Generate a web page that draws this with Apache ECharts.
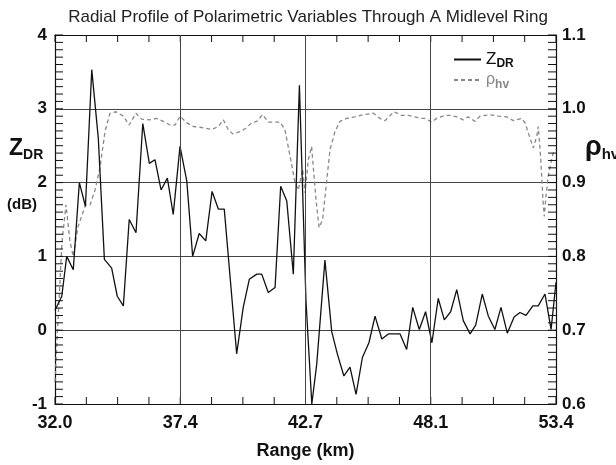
<!DOCTYPE html>
<html>
<head>
<meta charset="utf-8">
<title>Radial Profile</title>
<script src="https://cdn.jsdelivr.net/npm/echarts@6/dist/echarts.min.js"></script>
<style>
  html, body { margin: 0; padding: 0; background: #fff; }
  #chart { width: 616px; height: 465px; }
</style>
</head>
<body>
<div id="chart"></div>
<script>
// x axis ticks (km) and the labels printed under them
const rangeTicks = [32.0, 37.35, 42.7, 48.05, 53.4]
const rangeLabels = ['32.0', '37.4', '42.7', '48.1', '53.4']

// Z_DR (dB) along the radial
const zdrRange = [32.00, 32.29, 32.50, 32.78, 33.04, 33.30, 33.57, 33.85, 34.11, 34.42,
  34.66, 34.92, 35.17, 35.46, 35.75, 36.03, 36.27, 36.53, 36.80, 37.05,
  37.34, 37.63, 37.88, 38.16, 38.44, 38.71, 38.98, 39.23, 39.76, 40.04,
  40.30, 40.62, 40.83, 41.11, 41.40, 41.64, 41.90, 42.18, 42.44, 42.72,
  42.97, 43.18, 43.53, 43.82, 44.06, 44.34, 44.60, 44.86, 45.13, 45.41,
  45.67, 45.96, 46.24, 46.48, 46.74, 47.02, 47.28, 47.56, 47.83, 48.10,
  48.37, 48.63, 48.90, 49.16, 49.44, 49.73, 49.97, 50.25, 50.51, 50.79,
  51.05, 51.32, 51.61, 51.86, 52.12, 52.41, 52.64, 52.93, 53.19, 53.40]
const zdrValue = [0.27, 0.46, 1.00, 0.82, 2.00, 1.68, 3.53, 2.60, 0.96, 0.84,
  0.46, 0.33, 1.50, 1.32, 2.80, 2.26, 2.31, 1.90, 2.06, 1.57,
  2.49, 2.02, 1.00, 1.31, 1.21, 1.88, 1.64, 1.64, -0.32, 0.31,
  0.69, 0.76, 0.76, 0.51, 0.58, 1.95, 1.75, 0.76, 3.32, 0.40,
  -1.00, -0.46, 0.95, -0.02, -0.32, -0.62, -0.50, -0.87, -0.37, -0.17,
  0.19, -0.12, -0.05, -0.05, -0.05, -0.26, 0.31, 0.01, 0.25, -0.17,
  0.43, 0.14, 0.25, 0.55, 0.13, -0.05, 0.07, 0.49, 0.19, 0.01,
  0.31, -0.04, 0.18, 0.24, 0.20, 0.33, 0.33, 0.49, 0.01, 0.65]

// rho_hv along the radial
const rhoRange = [32.00, 32.14, 32.30, 32.47, 32.64, 32.78, 32.98, 33.31, 33.50, 33.71,
  33.92, 34.14, 34.35, 34.61, 34.92, 35.17, 35.46, 35.70, 36.06, 36.34,
  36.63, 36.91, 37.13, 37.34, 37.63, 37.91, 38.19, 38.69, 38.98, 39.19,
  39.40, 39.59, 39.90, 40.12, 40.40, 40.62, 40.87, 41.11, 41.61, 41.82,
  42.04, 42.25, 42.39, 42.58, 42.68, 42.82, 42.96, 43.03, 43.15, 43.28,
  43.43, 43.58, 43.75, 43.96, 44.17, 44.46, 44.81, 45.17, 45.60, 45.88,
  46.10, 46.48, 46.81, 47.09, 47.38, 47.59, 47.80, 48.09, 48.30, 48.66,
  48.87, 49.16, 49.44, 49.65, 49.94, 50.15, 50.58, 50.94, 51.29, 51.58,
  51.93, 52.08, 52.22, 52.43, 52.58, 52.64, 52.72, 52.79, 52.84, 52.90,
  52.97, 53.07, 53.21, 53.28, 53.40]
const rhoValue = [0.63, 0.72, 0.82, 0.87, 0.82, 0.80, 0.84, 0.87, 0.87, 0.89,
  0.92, 0.97, 0.994, 0.996, 0.990, 0.978, 0.994, 0.986, 0.985, 0.987,
  0.983, 0.978, 0.978, 0.990, 0.981, 0.976, 0.975, 0.972, 0.976, 0.985,
  0.972, 0.966, 0.969, 0.973, 0.981, 0.983, 0.992, 0.982, 0.982, 0.972,
  0.936, 0.900, 0.890, 0.918, 0.886, 0.931, 0.949, 0.922, 0.877, 0.839,
  0.850, 0.895, 0.945, 0.969, 0.983, 0.987, 0.989, 0.992, 0.994, 0.987,
  0.984, 0.996, 0.991, 0.991, 0.989, 0.987, 0.987, 0.982, 0.987, 0.991,
  0.991, 0.989, 0.985, 0.989, 0.983, 0.990, 0.992, 0.990, 0.989, 0.984,
  0.987, 0.981, 0.967, 0.947, 0.963, 0.976, 0.945, 0.909, 0.877, 0.854,
  0.881, 0.909, 0.931, 0.940, 0.945]

// minor tick positions: 4 per labelled range interval, 10 per unit on the left, 10 per 0.1 on the right
const minorRange = []
rangeTicks.forEach((t, i) => {
  if (i === rangeTicks.length - 1) { minorRange.push(t); return }
  const step = (rangeTicks[i + 1] - t) / 4
  for (let k = 0; k < 4; k++) minorRange.push(t + k * step)
})
const minorZdr = []
for (let k = 0; k <= 50; k++) minorZdr.push(-1 + k * 0.1)
const minorRho = []
for (let k = 0; k <= 50; k++) minorRho.push(0.6 + k * 0.01)

const FONT = 'Liberation Sans, Arial, sans-serif'
const ink = '#111'

function frameLine() {
  return { show: true, onZero: false, lineStyle: { color: ink, width: 1.2 } }
}

// tick marks drawn through the axes' own scales; dir = which way the tick points
function tickSeries(yIndex, data) {
  return {
    type: 'custom',
    xAxisIndex: 0,
    yAxisIndex: yIndex,
    silent: true,
    z: 4,
    data: data,
    renderItem: (params, api) => {
      const p = api.coord([api.value(0), api.value(1)])
      const dir = api.value(2)
      let x2 = p[0]
      let y2 = p[1]
      if (dir === 0) y2 -= 7 // bottom edge, pointing up
      if (dir === 1) y2 += 7 // top edge, pointing down
      if (dir === 2) x2 += 8 // left edge, pointing right
      if (dir === 3) x2 -= 8 // right edge, pointing left
      return {
        type: 'line',
        shape: { x1: p[0], y1: p[1], x2: x2, y2: y2 },
        style: { stroke: ink, lineWidth: 1 },
      }
    },
  }
}

const chart = echarts.init(document.getElementById('chart'))

const option = {
  animation: false,
  backgroundColor: '#fff',
  title: {
    text: 'Radial Profile of Polarimetric Variables Through A Midlevel Ring',
    left: 'center',
    top: 4,
    textStyle: { fontFamily: FONT, fontSize: 17, fontWeight: 'normal', color: '#222' },
  },
  grid: { left: 55, right: 60, top: 35, bottom: 60 },
  legend: {
    orient: 'vertical',
    left: 448,
    top: 46,
    itemWidth: 27,
    itemHeight: 10,
    itemGap: 2,
    itemStyle: { opacity: 0 },
    data: [{ name: 'ZDR' }, { name: 'rho' }],
    formatter: (name) => (name === 'ZDR' ? '{a|Z}{b|DR}' : '{c|ρ}{d|hv}'),
    textStyle: {
      fontFamily: FONT,
      rich: {
        a: { fontSize: 17, lineHeight: 18, color: ink },
        b: { fontSize: 12, fontWeight: 'bold', color: ink, padding: [9, 0, 0, 0] },
        c: { fontSize: 16, lineHeight: 18, color: '#888' },
        d: { fontSize: 12, fontWeight: 'bold', color: '#888', padding: [9, 0, 0, 0] },
      },
    },
  },
  xAxis: [
    {
      type: 'value',
      min: 32,
      max: 53.4,
      position: 'bottom',
      name: 'Range (km)',
      nameLocation: 'middle',
      nameGap: 38,
      nameTextStyle: { fontFamily: FONT, fontWeight: 'bold', color: ink, fontSize: 18 },
      axisLine: frameLine(),
      axisTick: { show: false },
      axisLabel: {
        fontFamily: FONT,
        fontWeight: 'bold',
        color: ink,
        fontSize: 18,
        margin: 10,
        customValues: rangeTicks,
        formatter: (v) => {
          const i = rangeTicks.findIndex((t) => Math.abs(t - v) < 0.01)
          return i >= 0 ? rangeLabels[i] : ''
        },
      },
      splitLine: { show: false },
    },
    {
      type: 'value',
      min: 32,
      max: 53.4,
      position: 'top',
      axisLine: frameLine(),
      axisTick: { show: false },
      axisLabel: { show: false },
      splitLine: { show: false },
    },
  ],
  yAxis: [
    {
      type: 'value',
      min: -1,
      max: 4,
      interval: 1,
      position: 'left',
      axisLine: frameLine(),
      axisTick: { show: false },
      axisLabel: { fontFamily: FONT, fontWeight: 'bold', color: ink, fontSize: 17, margin: 8 },
      splitLine: { show: true, lineStyle: { color: '#444', width: 1 } },
    },
    {
      type: 'value',
      min: 0.6,
      max: 1.1,
      interval: 0.1,
      position: 'right',
      axisLine: frameLine(),
      axisTick: { show: false },
      axisLabel: { fontFamily: FONT, fontWeight: 'bold', color: ink, fontSize: 17, margin: 6, formatter: (v) => v.toFixed(1) },
      splitLine: { show: false },
    },
  ],
  // axis titles with subscripts
  graphic: [
    {
      type: 'text',
      left: 9,
      top: 137,
      style: {
        text: '{m|Z}{s|DR}',
        rich: {
          m: { fontFamily: FONT, fontSize: 23, fontWeight: 'bold', fill: ink, lineHeight: 24 },
          s: { fontFamily: FONT, fontSize: 14, fontWeight: 'bold', fill: ink, padding: [14, 0, 0, 0] },
        },
      },
    },
    {
      type: 'text',
      left: 7,
      top: 197,
      style: { text: '(dB)', font: 'bold 15px Liberation Sans, Arial', fill: ink },
    },
    {
      type: 'text',
      left: 585,
      top: 134,
      style: {
        text: '{m|ρ}{s|hv}',
        rich: {
          m: { fontFamily: FONT, fontSize: 27, fontWeight: 'bold', fill: ink, lineHeight: 26 },
          s: { fontFamily: FONT, fontSize: 15, fontWeight: 'bold', fill: ink, padding: [14, 0, 0, 0] },
        },
      },
    },
  ],
  series: [
    {
      name: 'ZDR',
      type: 'line',
      xAxisIndex: 0,
      yAxisIndex: 0,
      symbol: 'none',
      data: zdrRange.map((r, i) => [r, zdrValue[i]]),
      lineStyle: { color: ink, width: 1.3 },
      itemStyle: { color: ink },
      z: 3,
      // vertical grid lines at the labelled ranges
      markLine: {
        silent: true,
        symbol: 'none',
        label: { show: false },
        lineStyle: { color: '#444', width: 1, type: 'solid' },
        data: rangeTicks.slice(1, -1).map((t) => ({ xAxis: t })),
      },
    },
    {
      name: 'rho',
      type: 'line',
      xAxisIndex: 0,
      yAxisIndex: 1,
      symbol: 'none',
      data: rhoRange.map((r, i) => [r, rhoValue[i]]),
      lineStyle: { color: '#888', width: 1.3, type: [4, 3] },
      itemStyle: { color: '#888' },
      z: 2,
    },
    // frame ticks
    tickSeries(0, minorRange.map((x) => [x, -1, 0]).concat(minorRange.map((x) => [x, 4, 1]))),
    tickSeries(0, minorZdr.map((y) => [32, y, 2])),
    tickSeries(1, minorRho.map((y) => [53.4, y, 3])),
  ],
}

chart.setOption(option)
</script>
</body>
</html>
